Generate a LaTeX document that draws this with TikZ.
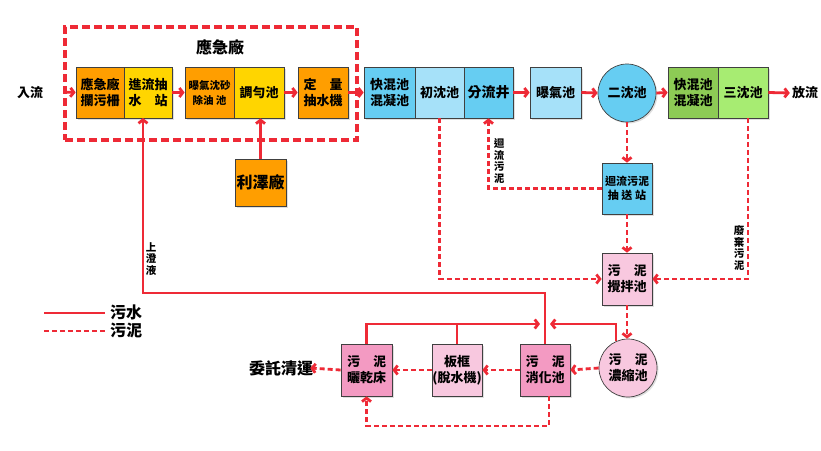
\documentclass[tikz,border=0pt]{standalone}
\usepackage{fontspec}
\newfontfamily\cjk{Noto Sans CJK TC}
\usetikzlibrary{arrows.meta,shadows}
\definecolor{rd}{HTML}{EE2A36}
\definecolor{org}{HTML}{FF9E00}
\definecolor{ylw}{HTML}{FFD500}
\definecolor{bl}{HTML}{66CDF2}
\definecolor{lbl}{HTML}{A6E1F9}
\definecolor{dgr}{HTML}{8DCB55}
\definecolor{lgr}{HTML}{A7EC72}
\definecolor{pk}{HTML}{F39AC2}
\definecolor{lpk}{HTML}{F8C8DF}
\begin{document}
\begin{tikzpicture}[x=1pt,y=-1pt,
  bx/.style={draw=black!75, line width=0.7pt, inner sep=0pt, align=center,
    minimum height=51, font=\cjk\bfseries\fontsize{13}{16}\selectfont,
    drop shadow={opacity=0.25,shadow xshift=1.5pt,shadow yshift=-1.5pt}},
  cir/.style={bx, circle, minimum size=58},
  txt/.style={inner sep=0pt, font=\cjk\bfseries\fontsize{13}{16}\selectfont},
  vl/.style={inner sep=0pt, align=center, font=\cjk\bfseries\fontsize{10.5}{11.5}\selectfont},
  ln/.style={draw=rd, line width=2.8pt},
  fl/.style={ln, -{Straight Barb[length=3.5pt,width=9pt]}},
  sl/.style={fl, dash pattern=on 5pt off 3pt},
]
\useasboundingbox (0,0) rectangle (821,450);

% emergency plant frame
\node[draw=rd, line width=3.4pt, dash pattern=on 8pt off 4pt, minimum width=292, minimum height=113, inner sep=0pt] (emer) at (211,83.5) {};
\node[txt, font=\cjk\bfseries\fontsize{16}{16}\selectfont] (title) at (220,47) {應急廠};

% top row
\node[txt] (in) at (30,92) {入流};
\node[bx, fill=org, minimum width=48] (a1) at (100,92.5) {應急廠\\攔污柵};
\node[bx, fill=ylw, minimum width=48] (a2) at (148,92.5) {進流抽\\水　站};
\node[bx, fill=org, minimum width=49, font=\cjk\bfseries\fontsize{10.5}{15}\selectfont] (a3) at (209.5,92.5) {曝氣沈砂\\除油 池};
\node[bx, fill=ylw, minimum width=50] (a4) at (259,92.5) {調勻池};
\node[bx, fill=org, minimum width=50] (a5) at (323,92.5) {定　量\\抽水機};
\node[bx, fill=bl, minimum width=51] (b1) at (389.5,92.5) {快混池\\混凝池};
\node[bx, fill=lbl, minimum width=49] (b2) at (439.5,92.5) {初沈池};
\node[bx, fill=bl, minimum width=49, font=\cjk\bfseries\fontsize{14}{16}\selectfont] (b3) at (488.5,92.5) {分流井};
\node[bx, fill=lbl, minimum width=51] (b4) at (555.5,92.5) {曝氣池};
\node[cir, fill=bl] (b5) at (627,93) {二沈池};
\node[bx, fill=dgr, minimum width=50] (b6) at (693,92.5) {快混池\\混凝池};
\node[bx, fill=lgr, minimum width=50] (b7) at (743,92.5) {三沈池};
\node[txt] (out) at (805,93) {放流};

% middle
\node[bx, fill=org, minimum width=51, minimum height=47, font=\cjk\bfseries\fontsize{16}{16}\selectfont] (lz) at (260.5,182.5) {利澤廠};
\node[bx, fill=bl, minimum width=50, font=\cjk\bfseries\fontsize{11}{14}\selectfont] (rs) at (627,188.5) {迴流污泥\\抽 送 站};
\node[bx, fill=lpk, minimum width=50, minimum height=52] (mix) at (627,279) {污　泥\\攪拌池};

% bottom row
\node[cir, fill=lpk] (th) at (628,368) {污　泥\\濃縮池};
\node[bx, fill=pk, minimum width=50, minimum height=52] (dg) at (545,370) {污　泥\\消化池};
\node[bx, fill=lpk, minimum width=50, minimum height=52] (pl) at (457,370) {板框\\(脫水機)};
\node[bx, fill=pk, minimum width=51, minimum height=52] (dr) at (366.5,370) {污　泥\\曬乾床};
\node[txt, font=\cjk\bfseries\fontsize{16}{16}\selectfont] (ex) at (281,368) {委託清運};

% vertical labels
\node[vl] (l1) at (151,259) {上\\澄\\液};
\node[vl] (l2) at (499,161) {迴\\流\\污\\泥};
\node[vl] (l3) at (739,248) {廢\\棄\\污\\泥};

% solid flows
\draw[fl] ([xshift=20pt]in.east) -- (a1.west);
\draw[fl] (a2.east) -- (a3.west);
\draw[fl] (a4.east) -- (a5.west);
\draw[fl] (a5.east) -- (b1.west);
\draw[fl] (b3.east) -- (b4.west);
\draw[fl] (b4.east) -- (b5.west);
\draw[fl] (b5.east) -- (b6.west);
\draw[fl] (b7.east) -- ([xshift=-2pt]out.west);
\draw[fl] (lz.north) -- (lz.north |- a4.south);

\coordinate (j1) at (540,324);
\coordinate (j2) at (550,324);
\coordinate (up) at (545,293);
\coordinate (a2in) at (143,118);
\draw[fl] (dg.north) -- (up) -| (a2in);
\draw[fl] (dr.north) |- (j1);
\draw[ln] (pl.north) -- (pl.north |- j1);
\draw[fl] (th.114) |- (j2);

% sludge flows
\draw[sl] (b5.south) -- (rs.north);
\draw[sl] (rs.west) -| (b3.south);
\draw[sl] (rs.south) -- (mix.north);
\draw[sl] (b2.south) |- (mix.west);
\draw[sl] ([xshift=5pt]b7.south) |- (mix.east);
\draw[sl] (mix.south) -- (mix.south |- th.north);
\draw[sl] (th.west) -- (dg.east);
\draw[sl] (dg.west) -- (pl.east);
\draw[sl] (pl.west) -- (dr.east);
\draw[sl] (dr.west) -- ([xshift=-3pt]ex.east);
\coordinate (bt) at (549,426);
\draw[sl] ([xshift=4pt]dg.south) -- (bt) -| (dr.south);

% legend
\coordinate (la1) at (44,313);
\coordinate (lb1) at (105,313);
\coordinate (la2) at (44,331);
\coordinate (lb2) at (105,331);
\draw[ln] (la1) -- (lb1);
\draw[ln, dash pattern=on 5pt off 3pt] (la2) -- (lb2);
\node[txt, anchor=west, font=\cjk\bfseries\fontsize{16}{16}\selectfont] (lg1) at (110,312) {污水};
\node[txt, anchor=west, font=\cjk\bfseries\fontsize{16}{16}\selectfont] (lg2) at (110,330) {污泥};
\end{tikzpicture}
\end{document}
